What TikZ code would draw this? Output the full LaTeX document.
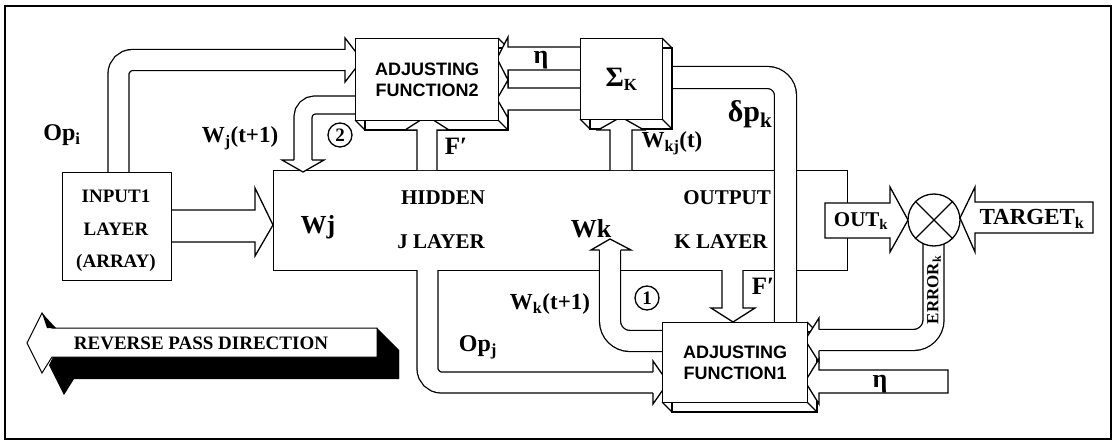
\documentclass[tikz,border=0pt]{standalone}
\usepackage{fontspec}
\setmainfont{Liberation Serif}
\newfontfamily\adjfont{Liberation Sans}
\begin{document}
\begin{tikzpicture}[x=1pt,y=-1pt,line width=1.3pt,line join=miter,
  pipe/.style={double=white,double distance=#1},
  lbl/.style={font=\fontsize{21}{21}\selectfont\bfseries,inner sep=0pt},
  big/.style={font=\fontsize{23}{23}\selectfont\bfseries,inner sep=0pt},
  sml/.style={font=\fontsize{19}{19}\selectfont\bfseries,inner sep=0pt},
  adjtxt/.style={font=\adjfont\fontsize{18}{21}\selectfont\bfseries,align=center},
  num/.style={circle,draw,line width=1.3pt,minimum size=24pt,inner sep=0pt,font=\fontsize{19}{19}\selectfont\bfseries}]
\useasboundingbox (0,0) rectangle (1116,444);
% frame
\draw[line width=1.5pt] (5,6) rectangle (1111,439);
% main box
\node[draw,fill=white,anchor=north west,minimum width=574pt,minimum height=100pt,inner sep=0pt] (main) at (273,170) {};
% delta pk pipe
\draw[pipe=20.7pt,rounded corners=18pt] (672,77.5) -- (785.5,77.5) -- (785.5,322);
% OUTk arrow
\draw[fill=white] (825,203) -- (890,203) -- (890,187) -- (908,220) -- (890,252) -- (890,238) -- (825,238) -- cycle;
\node[lbl] (outk) at (861,221) {OUT\textsubscript{k}};
% TARGETk arrow
\draw[fill=white] (960,218) -- (975,187) -- (975,202) -- (1093,202) -- (1093,233) -- (975,233) -- (975,252) -- cycle;
\node[big] (tgt) at (1032,219) {TARGET\textsubscript{k}};
% ERRORk pipe
\draw[pipe=19.7pt,rounded corners=20pt] (933.5,243) -- (933.5,340) -- (819,340);
\node[circle,draw,fill=white,minimum size=52pt,inner sep=0pt] (cmp) at (934,220) {};
\draw (cmp.north west) -- (cmp.south east) (cmp.north east) -- (cmp.south west);
\node[inner sep=0pt,rotate=90,font=\fontsize{17}{17}\selectfont\bfseries] (err) at (934,290) {ERROR\textsubscript{k}};
% bevel backs
\draw[fill=white] (365,48) rectangle (508,130);
\draw (355,120) -- (365,130) (498,38) -- (508,48) (498,120) -- (508,130);
\draw[fill=white] (590,48) rectangle (672,129);
\draw (580,119) -- (590,129) (662,38) -- (672,48) (662,119) -- (672,129);
\draw[fill=white] (672,332) rectangle (817,412);
\draw (662,402) -- (672,412) (807,322) -- (817,332) (807,402) -- (817,412);
% eta pipes Sigma -> ADJ2
\draw[fill=white] (580,47) -- (508,47) -- (508,37) -- (497,58.5) -- (508,80) -- (508,70) -- (580,70);
\draw[fill=white] (580,88) -- (508,88) -- (508,80) -- (497,99) -- (508,118) -- (508,110) -- (580,110);
% ERROR head and eta to ADJ1
\draw[fill=white] (819,329.5) -- (819,318) -- (805,340) -- (819,362) -- (819,350.5);
\draw[fill=white] (948,370) -- (819,370) -- (819,359) -- (805,381.5) -- (819,404) -- (819,393) -- (948,393) -- cycle;
% Opi pipe
\draw[pipe=19.7pt,rounded corners=14pt] (118.5,172) -- (118.5,60) -- (345,60);
\draw[fill=white] (345,50) -- (345,38) -- (362,60) -- (345,82) -- (345,70);
% input arrow
\draw[fill=white] (171,210) -- (255,210) -- (255,188) -- (273,225) -- (255,256) -- (255,242) -- (171,242);
% pipe 2
\draw[pipe=16.7pt,rounded corners=12pt] (356,105) -- (303,105) -- (303,160);
\draw[fill=white] (294,160) -- (282,160) -- (303,172) -- (324,160) -- (312,160);
% F' to ADJ2
\draw[fill=white] (417,170) -- (417,130) -- (405,130) -- (427,116) -- (449,130) -- (437,130) -- (437,170);
% Wkj to Sigma
\draw[fill=white] (610,170) -- (610,130) -- (598,130) -- (621,117) -- (644,130) -- (632,130) -- (632,170);
% F' to ADJ1
\draw[fill=white] (722,270) -- (722,308) -- (711,308) -- (733,322) -- (755,308) -- (743,308) -- (743,270);
% pipe 1
\draw[pipe=19.7pt,rounded corners=20pt] (662,341) -- (610,341) -- (610,250);
\draw[fill=white] (599.5,250) -- (591,250) -- (610,239) -- (631,250) -- (620.5,250);
% Opj pipe
\draw[pipe=19.7pt,rounded corners=14pt] (427.5,270) -- (427.5,382.5) -- (653,382.5);
\draw[fill=white] (653,372) -- (653,361) -- (668,382.5) -- (653,404) -- (653,393);
% fronts
\node[draw,fill=white,anchor=north west,minimum width=143pt,minimum height=82pt,inner sep=0pt,adjtxt] (adj2) at (355,38) {ADJUSTING\\FUNCTION2};
\node[draw,fill=white,anchor=north west,minimum width=82pt,minimum height=81pt,inner sep=0pt,font=\fontsize{28}{28}\selectfont\bfseries] (sig) at (580,38) {Σ\textsubscript{\fontsize{17}{17}\selectfont K}};
\node[draw,fill=white,anchor=north west,minimum width=145pt,minimum height=80pt,inner sep=0pt,adjtxt] (adj1) at (662,322) {ADJUSTING\\FUNCTION1};
\node[draw,fill=white,anchor=north west,minimum width=109pt,minimum height=108pt,inner sep=0pt] (inp) at (62,172) {};
\node[sml] (in1) at (116,196) {INPUT1};
\node[sml] (in2) at (116,229) {LAYER};
\node[sml] (in3) at (116,263) {(ARRAY)};
% labels
\node[big,font=\fontsize{24}{24}\selectfont\bfseries] (opi) at (62,135) {Op\textsubscript{i}};
\node[big] (wj1) at (240,138) {W\textsubscript{j}(t+1)};
\node[num] (n2) at (340,135) {2};
\node[big,font=\fontsize{25}{25}\selectfont\bfseries] (fp2) at (456,146) {F′};
\node[big,font=\fontsize{26}{26}\selectfont\bfseries] (eta2) at (541,60) {η};
\node[big] (wkj) at (672,143) {W\textsubscript{kj}(t)};
\node[big,font=\fontsize{30}{30}\selectfont\bfseries] (dpk) at (750,114) {δp\textsubscript{k}};
\node[big,font=\fontsize{26}{26}\selectfont\bfseries] (wj) at (318,227) {Wj};
\node[lbl] (hid) at (443,198) {HIDDEN};
\node[lbl] (jl) at (441,242) {J LAYER};
\node[big,font=\fontsize{26}{26}\selectfont\bfseries] (wk) at (591,229) {Wk};
\node[lbl] (outp) at (727,198) {OUTPUT};
\node[lbl] (kl) at (721,242) {K LAYER};
\node[big] (wk1) at (550,304) {W\textsubscript{k}(t+1)};
\node[num] (n1) at (647,298) {1};
\node[big,font=\fontsize{25}{25}\selectfont\bfseries] (fp1) at (763,286) {F′};
\node[big,font=\fontsize{24}{24}\selectfont\bfseries] (opj) at (478,347) {Op\textsubscript{j}};
\node[big,font=\fontsize{26}{26}\selectfont\bfseries] (eta1) at (880,384) {η};
% reverse pass arrow
\fill (49,365) -- (64,335) -- (74,350) -- (399,350) -- (399,379) -- (74,379) -- (64,395) -- cycle;
\draw[fill=white,line width=1pt] (27,343) -- (42,313) -- (52,328) -- (377,328) -- (377,357) -- (52,357) -- (42,373) -- cycle;
\fill (42,313) -- (56,328) -- (47,328) -- cycle;
\fill (377,328) -- (399,350) -- (399,379) -- (377,357) -- cycle;
\node[sml] (rev) at (201,343) {REVERSE PASS DIRECTION};
\end{tikzpicture}
\end{document}
